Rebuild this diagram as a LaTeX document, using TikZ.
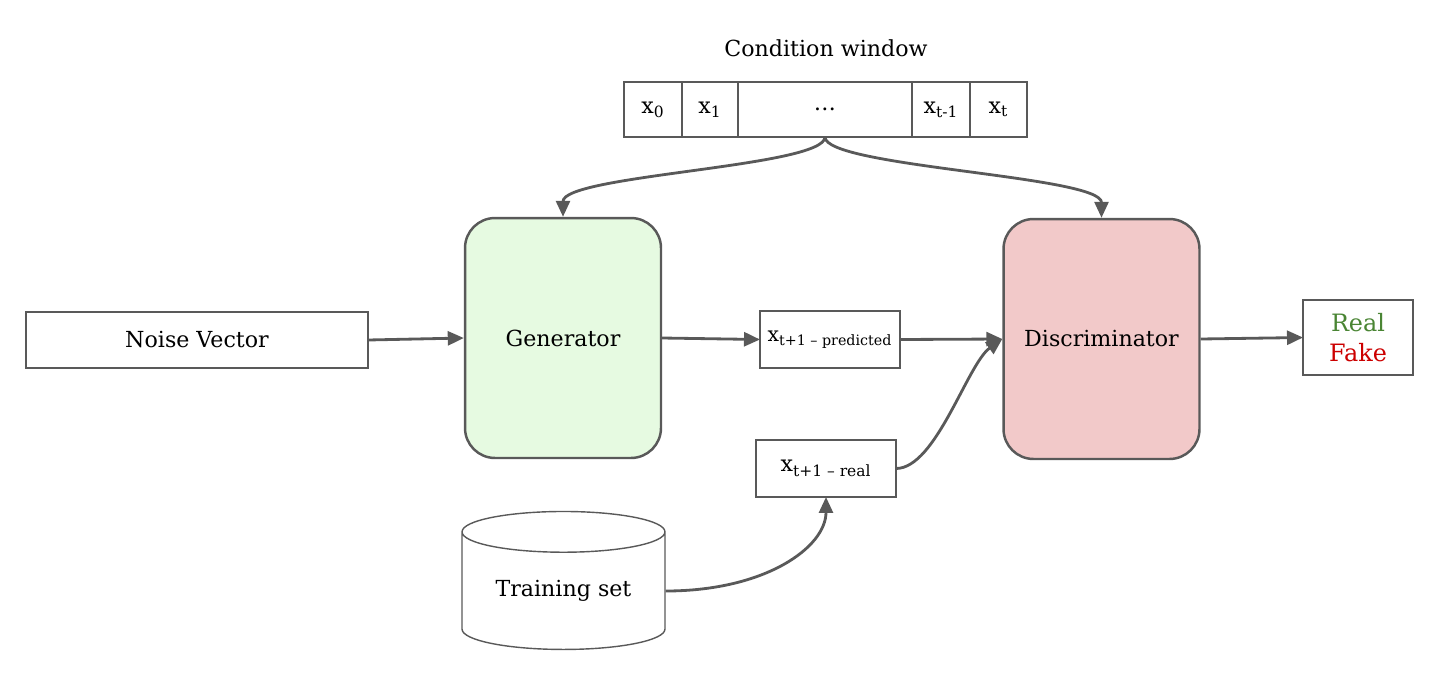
\documentclass[tikz,border=0pt]{standalone}
\usepackage{fontspec}
\setmainfont{DejaVu Serif}
\usetikzlibrary{positioning,arrows.meta,shapes.geometric}
\definecolor{edgegray}{HTML}{595959}
\definecolor{genfill}{HTML}{E6FAE1}
\definecolor{discfill}{HTML}{F2C9C9}
\definecolor{realgreen}{HTML}{4A8534}
\definecolor{fakered}{HTML}{CC0000}
\tikzset{
  box/.style={draw=edgegray, line width=0.8pt, inner sep=0pt, outer sep=0pt, align=center},
  cell/.style={box, minimum height=1.1cm},
  block/.style={draw=edgegray, line width=1.4pt, rounded corners=0.6cm, minimum width=3.92cm, minimum height=4.8cm},
  flow/.style={draw=edgegray, line width=1.6pt, -{Triangle[length=0.32cm,width=0.28cm]}},
}

\begin{document}
\begin{tikzpicture}[x=0.02cm, y=-0.02cm, font=\fontsize{12.6}{15}\selectfont]
\useasboundingbox (0,0) rectangle (1440,673);
% condition window
\node (title) at (826,48) {Condition window};
\node[cell, minimum width=1.16cm, anchor=west] (c0) at (624,109.5) {x\textsubscript{0}};
\node[cell, minimum width=1.12cm, right=0pt of c0] (c1) {x\textsubscript{1}};
\node[cell, minimum width=3.48cm, right=0pt of c1] (c2) {\dots};
\node[cell, minimum width=1.16cm, right=0pt of c2] (c3) {x\textsubscript{t-1}};
\node[cell, minimum width=1.14cm, right=0pt of c3] (c4) {x\textsubscript{t}};
% main blocks
\node[block, fill=genfill] (gen) at (563,338) {Generator};
\node[block, fill=discfill] (disc) at (1101.5,339) {Discriminator};
\node[box, minimum width=6.84cm, minimum height=1.12cm] (noise) at (197,340) {Noise Vector};
\node[box, minimum width=2.8cm, minimum height=1.14cm, font=\fontsize{11.6}{14}\selectfont] (pred) at (830,339.5)
  {x\textsubscript{t+1 -- predicted}};
\node[box, minimum width=2.8cm, minimum height=1.14cm] (real) at (826,468.5) {x\textsubscript{t+1 -- real}};
\node[box, minimum width=2.2cm, minimum height=1.5cm, font=\fontsize{13.6}{16}\selectfont] (rf) at (1358,337.5)
  {\textcolor{realgreen}{Real}\\[1pt]\textcolor{fakered}{Fake}};
\node[cylinder, shape border rotate=90, aspect=0.3, draw=edgegray, line width=0.8pt,
  minimum width=4.06cm, minimum height=2.76cm, inner sep=0pt] (train) at (563.5,591) {Training set};
% connectors
\draw[flow] (c2.south) .. controls +(0,30) and +(0,-42) .. (gen.north);
\draw[flow] (c2.south) .. controls +(0,30) and +(0,-42) .. (disc.north);
\draw[flow] (noise.east) -- (gen.west);
\draw[flow] (gen.east) -- (pred.west);
\draw[flow] (pred.east) -- (disc.west);
\draw[flow] (real.east) .. controls +(40,0) and +(-35,25) .. (disc.west);
\draw[flow] (train.east) .. controls +(100,0) and +(0,50) .. (real.south);
\draw[flow] (disc.east) -- (rf.west);
\end{tikzpicture}
\end{document}
